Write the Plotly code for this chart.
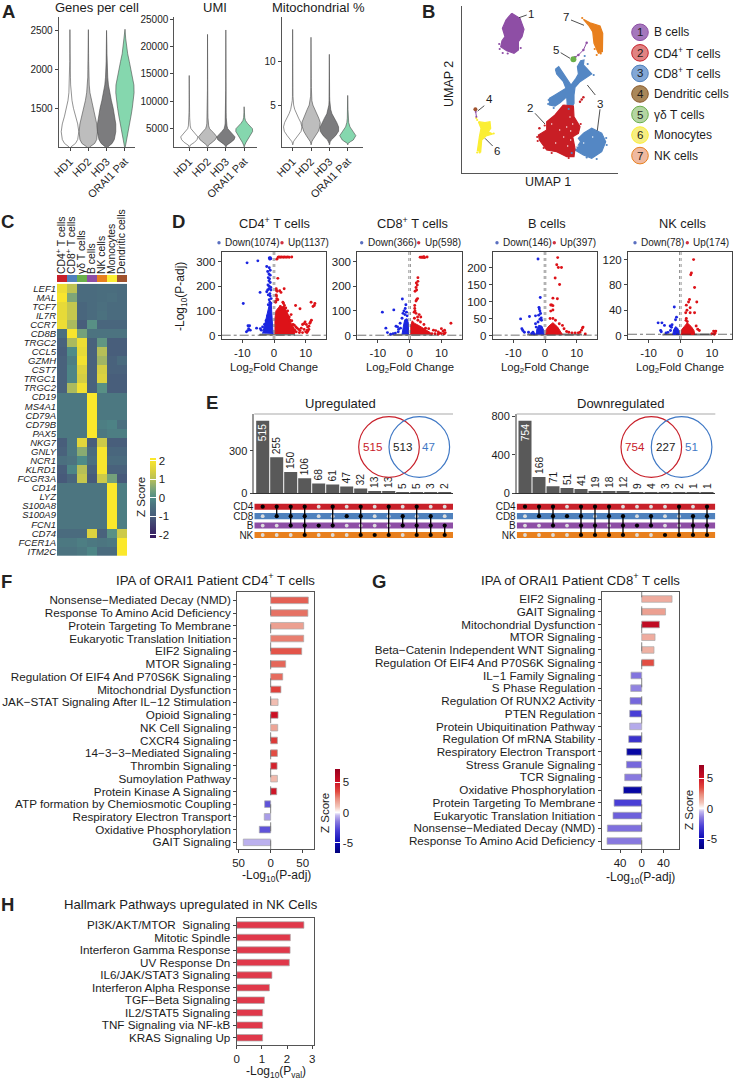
import plotly.graph_objects as go

W, H = 733, 1079
FONT = "Liberation Sans"
INK = "#1c1c1c"

# ---- A: quality-control violins ----
SAMPLES = ["HD1", "HD2", "HD3", "ORAI1 Pat"]
VIOLIN_FILLS = ["#FFFFFF", "#BDBDBD", "#7C7C7E", "#85D7AE"]

GENES_LEVELS = [1005, 1050, 1100, 1200, 1300, 1400, 1500, 1600, 1700, 1800, 1900, 2000, 2100, 2200, 2300, 2400]
GENES_TOPS = [2510, 2510, 2500, 2515]
GENES_WIDTHS = [
    [.05, .3, .42, .48, .42, .3, .19, .11, .06, .035, .025, .02, .015, .015, .01, .01],
    [.08, .35, .46, .5, .46, .36, .26, .16, .09, .05, .03, .025, .02, .015, .015, .01],
    [.07, .3, .42, .5, .5, .45, .36, .26, .17, .1, .06, .035, .025, .02, .015, .01],
    [.02, .06, .1, .18, .26, .33, .4, .46, .5, .49, .42, .33, .24, .15, .08, .04],
]
UMI_LEVELS = [1700, 2000, 2500, 3000, 3500, 4000, 4500, 5000, 5500, 6000, 6500, 7000, 8000, 9000, 10000, 12000, 14000, 16000, 18000, 20000]
UMI_TOPS = [14700, 22200, 23000, 9000]
UMI_WIDTHS = [
    [.02, .05, .28, .42, .47, .34, .2, .09, .05, .035, .025, .02, .015, .012, .01, .008, .006],
    [.02, .05, .25, .42, .5, .4, .25, .11, .06, .04, .03, .02, .015, .012, .01, .01, .008, .006, .006, .006],
    [.02, .05, .27, .45, .5, .38, .22, .1, .06, .04, .03, .02, .015, .012, .01, .01, .008, .006, .006, .006],
    [.015, .03, .1, .18, .26, .36, .46, .45, .3, .17, .07, .03, .012],
]
MITO_LEVELS = [.45, .6, .8, 1, 1.5, 2, 2.5, 3, 3.5, 4, 4.5, 5, 5.5, 6, 7, 8, 10, 12]
MITO_TOPS = [13.65, 12.75, 10.8, 6.1]
MITO_WIDTHS = [
    [.008, .012, .04, .1, .3, .46, .5, .44, .32, .2, .11, .05, .025, .015, .012, .01, .008, .006],
    [.008, .012, .04, .09, .26, .4, .48, .5, .42, .32, .21, .1, .045, .025, .015, .012, .008, .006],
    [.008, .012, .04, .1, .34, .5, .5, .4, .27, .14, .07, .03, .02, .012, .01, .008, .006],
    [.008, .015, .14, .3, .44, .28, .12, .05, .025, .015, .012, .008, .006, .006],
]

# ---- B: UMAP cluster outlines (x and y in UMAP units) ----
BCELL_U = [5.0, 5.83, 6.23, 6.03, 5.67, 5.67, 5.23, 4.5, 3.9, 4.03, 4.33, 4.07, 4.43]
BCELL_V = [15.97, 15.47, 14.37, 13.63, 13.13, 12.3, 11.97, 12.23, 12.63, 13.23, 13.63, 14.47, 15.3]
NK_U = [12.17, 12.83, 13.83, 14.1, 14.07, 13.67, 13.23, 13.1, 12.67]
NK_V = [15.37, 15.03, 14.7, 13.97, 12.13, 11.97, 12.97, 14.13, 14.8]
CD8_ARMS_U = [9.37, 9.7, 10.1, 10.57, 10.93, 11.43, 11.67, 11.57, 11.9, 12.23, 12.17, 12.5, 13.0, 12.5, 11.83, 11.33, 11.23, 11.23, 11.0, 10.57,
              10.5, 9.83, 9.33, 8.77, 8.77, 9.33, 10.43, 10.17, 9.77, 9.5]
CD8_ARMS_V = [10.37, 10.63, 10.03, 9.3, 8.8, 9.47, 9.9, 10.63, 11.23, 11.3, 10.8, 10.47, 9.9, 9.57, 9.13, 8.57, 7.8, 6.97, 6.57, 6.57,
              7.63, 7.03, 6.7, 6.8, 7.47, 7.8, 8.47, 9.13, 9.57, 9.9]
CD8_BLOB_U = [12.17, 13.0, 14.0, 14.4, 14.0, 13.0, 12.17, 11.33, 11.9, 11.67]
CD8_BLOB_V = [3.97, 4.47, 3.97, 3.13, 2.13, 1.47, 1.8, 2.3, 3.13, 3.47]
CD4_U = [10.17, 11.17, 11.23, 11.83, 11.67, 11.1, 11.33, 11.23, 10.5, 9.5, 8.5, 7.77, 7.67, 8.5, 8.5, 9.33]
CD4_V = [6.8, 6.7, 5.63, 4.63, 3.97, 3.63, 2.47, 1.63, 1.63, 2.13, 2.3, 3.3, 3.8, 4.3, 5.13, 5.8]
MONO_U = [1.67, 2.33, 2.83, 2.9, 2.67, 3.1, 2.43, 2.0, 1.9, 1.57, 1.77, 1.93]
MONO_V = [5.13, 5.03, 5.13, 4.47, 4.13, 3.9, 3.7, 3.3, 2.13, 2.23, 3.63, 4.47]
BSTREAK_U = [12.5, 12.17, 11.67, 11.33]
BSTREAK_V = [13.03, 12.3, 11.8, 11.57]
DCSTREAK_U = [1.4, 1.47]
DCSTREAK_V = [6.13, 5.63]
GD_U, GD_V = [11.17], [11.37]
DC_U, DC_V = [1.37], [6.37]
CD4_BITS_U = [7.77, 11.83, 12.0, 12.17]
CD4_BITS_V = [4.47, 7.13, 7.35, 7.57]
GAPS_U = [10.5, 10.83, 11.1, 9.0, 10.2, 9.8, 10.9, 11.5, 11.6, 11.45, 10.6, 9.4, 10.9, 12.2, 13.1]
GAPS_V = [4.6, 5.6, 4.9, 4.9, 3.6, 4.3, 3.3, 3.1, 2.7, 2.5, 2.7, 3.0, 4.2, 3.0, 3.6]

# Scattered cells lying just outside the cluster outlines
BCELL_FRINGE_U = [3.8, 4.1, 4.6, 3.75, 5.9]
BCELL_FRINGE_V = [12.4, 12.0, 11.95, 12.9, 12.5]
NK_FRINGE_U = [13.5, 13.9, 13.3, 12.05]
NK_FRINGE_V = [11.8, 11.95, 12.4, 15.5]
CD8_FRINGE_U = [12.3, 12.6, 13.2, 8.65, 8.7, 9.2, 10.7, 14.45, 14.5, 13.5, 12.5, 11.0]
CD8_FRINGE_V = [11.7, 10.9, 9.8, 6.9, 7.3, 6.5, 6.4, 3.5, 2.8, 1.4, 1.55, 2.0]
CD4_FRINGE_U = [7.55, 7.6, 8.2, 9.0, 10.7, 11.9, 8.3]
CD4_FRINGE_V = [3.6, 3.2, 2.5, 2.0, 1.5, 4.9, 4.75]
MONO_FRINGE_U = [1.55, 1.8, 3.2, 1.55, 1.45]
MONO_FRINGE_V = [2.05, 2.05, 3.95, 5.3, 5.5]

LEGEND_NAMES = ["B cells", "CD4<sup>+</sup> T cells", "CD8<sup>+</sup> T cells", "Dendritic cells", "γδ T cells", "Monocytes", "NK cells"]
LEGEND_FILLS = ["#A477BC", "#E08382", "#82A7D6", "#A98759", "#B4D5A2", "#F6EE82", "#EFB9A0"]
LEGEND_EDGES = ["#8E4EA5", "#C8202A", "#4F81BD", "#8B5A2B", "#6AAF4A", "#FBEE33", "#E8801E"]

# ---- C: marker-gene heatmap ----
GENES = ["LEF1", "MAL", "TCF7", "IL7R", "CCR7", "CD8B", "TRGC2", "CCL5", "GZMH", "CST7", "TRGC1", "TRGC2",
         "CD19", "MS4A1", "CD79A", "CD79B", "PAX5", "NKG7", "GNLY", "NCR1", "KLRD1", "FCGR3A",
         "CD14", "LYZ", "S100A8", "S100A9", "FCN1", "CD74", "FCER1A", "ITM2C"]
CELL_TYPES = ["CD4<sup>+</sup> T cells", "CD8<sup>+</sup> T cells", "γδ T cells", "B cells", "NK cells", "Monocytes", "Dendritic cells"]
CELL_COLORS = ["#C8202A", "#4F81BD", "#6AAF4A", "#8E4EA5", "#E8801E", "#FBEE33", "#A0522D"]
ZSCORES = [
    [1.8, 1.1, -.6, -.6, -.55, -.55, -.6],
    [2.0, .5, -.6, -.6, -.55, -.5, -.6],
    [1.7, 1.2, -.7, -.6, -.5, -.6, -.6],
    [1.7, 1.2, -.7, -.6, -.45, -.6, -.6],
    [1.8, .9, -.9, .1, -.7, -.7, -.7],
    [-.5, 2.0, .4, -.4, -.4, -.4, -.4],
    [-.8, .9, 1.8, -.8, .2, -.9, -.9],
    [-.9, 0, 1.7, -.8, 1.0, -.9, -.9],
    [-.8, -.2, 1.9, -.8, .8, -.8, -.6],
    [-.8, -.1, 1.5, -.8, 1.4, -.8, -.8],
    [-.8, -.1, 1.4, -.8, 1.5, -.9, -.9],
    [-.8, .9, 1.9, -.8, .1, -.9, -.9],
    [-.3, -.3, -.3, 2.1, -.3, -.3, -.3],
    [-.3, -.3, -.3, 2.1, -.3, -.3, -.3],
    [-.3, -.3, -.3, 2.1, -.3, -.3, -.3],
    [-.3, -.3, -.3, 2.1, -.2, -.15, -.5],
    [-.3, -.3, -.3, 2.1, -.3, -.2, -.2],
    [-.9, -.3, 1.6, -.9, 1.3, -.9, -.9],
    [-.8, -.3, .6, -.6, 2.0, -.7, -.7],
    [-.5, -.4, 0, -.5, 2.0, -.6, -.6],
    [-.9, -.1, 1.0, -.8, 2.0, -.8, -.8],
    [-1.0, -.7, 1.2, -1.0, 1.3, .4, -1.0],
    [-.35, -.35, -.35, -.35, -.35, 2.1, -.2],
    [-.35, -.35, -.35, -.35, -.35, 2.1, -.2],
    [-.35, -.35, -.35, -.35, -.35, 2.1, -.2],
    [-.35, -.35, -.35, -.35, -.35, 2.1, -.2],
    [-.35, -.35, -.35, -.35, -.35, 2.1, -.2],
    [-.6, -.6, -.6, 1.5, -.8, .1, 1.3],
    [-.3, -.3, -.2, -.3, -.35, -.3, 2.1],
    [-.4, -.4, -.3, -.1, -.6, -.6, 2.1],
]
HEAT_SCALE = [[0, "#35165F"], [.267, "#475A7A"], [.419, "#4C7580"], [.5, "#4E8B88"], [.616, "#7EA678"],
              [.733, "#B6BF58"], [.849, "#DCD23F"], [.965, "#F8E52D"], [1, "#FCE92A"]]

# ---- D: volcano plots (log2 fold change, -log10 adjusted p) ----
CD4_DOWN_CORE = [(-3.6, 8), (-3.2, 30), (-2.6, 55), (-2.3, 75), (-1.9, 100), (-1.4, 130), (-.9, 135), (-.7, 100), (-.5, 60), (-.3, 30), (-.3, 6)]
CD4_UP_CORE = [(.3, 6), (.3, 70), (.6, 100), (1.5, 115), (3.2, 118), (4.5, 85), (5.4, 50), (6.5, 25), (6.5, 6)]
CD4_DOWN = [(-1.5, 315), (-1.2, 316), (-1.3, 310), (-1.0, 312), (-8.5, 295), (-5.1, 303), (-2.3, 280), (-1.5, 275), (-1.2, 265), (-2.0, 260),
            (-1.6, 250), (-1.2, 245), (-1.8, 235), (-1.4, 230), (-1.6, 222), (-1.2, 215), (-1.9, 205), (-1.5, 200), (-1, 195), (-4.4, 175),
            (-2.3, 178), (-2.0, 185), (-1.6, 190), (-1, 185), (-1.3, 170), (-1.8, 165), (-1.2, 160), (-.9, 150), (-9.7, 130), (-1.5, 145),
            (-1.3, 135), (-1.8, 125), (-1, 130), (-8.2, 40), (-7.7, 40), (-8, 28), (-8.3, 20), (-8.7, 15), (-7.5, 22), (-5.5, 30), (-4.3, 28),
            (-4, 22), (-3.6, 35), (-3.0, 45), (-2.5, 60), (-2, 80), (-2.8, 15)]
CD4_UP = [(1.3, 318), (1.6, 319), (2, 318), (2.4, 319), (2.9, 318), (3.3, 319), (3.8, 318), (4.3, 319), (4.8, 318), (5.6, 319), (.9, 310),
          (1.2, 232), (.7, 190), (.8, 183), (1, 180), (3.2, 190), (1.8, 182), (2.2, 175), (.7, 165), (.8, 160), (.9, 150), (1.2, 145), (.6, 140),
          (.5, 135), (3, 130), (2.8, 135), (6.8, 122), (8.2, 109), (11.7, 135), (12.9, 130), (12.7, 122), (12.3, 118), (2, 118), (3.3, 122),
          (3.7, 112), (4.3, 100), (5.4, 85), (4.8, 75), (5, 62), (5.6, 60), (6, 45), (6.4, 42), (6.9, 35), (7.3, 30), (7.8, 25), (8.2, 20), (8.6, 30),
          (9, 45), (9.4, 48), (9.8, 55), (10.2, 45), (10.6, 35), (11, 38), (11.5, 55), (11.8, 62), (11.3, 50), (10.5, 22), (10, 15), (10.4, 12),
          (9.5, 25), (9, 12), (8, 12), (7, 15), (6.5, 22), (11, 25), (10.7, 18), (5.8, 30)]
CD8_DOWN_CORE = [(-2.4, 5), (-2.2, 25), (-1.8, 50), (-1.5, 65), (-.8, 68), (-.4, 50), (-.35, 5)]
CD8_UP_CORE = [(.35, 5), (.35, 40), (.8, 60), (1.5, 50), (3, 40), (5, 25), (6.5, 12), (7, 5)]
CD8_DOWN = [(-8.6, 95), (-5, 104), (-2.3, 148), (-1.2, 125), (-1.4, 110), (-1.8, 100), (-2.1, 90), (-1.5, 85), (-1, 95), (-.8, 80), (-2.4, 70),
            (-3, 50), (-3.8, 35), (-4.3, 38), (-2.9, 30), (-7.5, 30), (-7, 12), (-6, 5), (-5.2, 8), (-4.5, 10), (-3.5, 25), (-3.6, 15)]
CD8_UP = [(3.3, 318), (3.7, 318), (4, 318), (4.3, 318), (4.7, 316), (5.5, 319), (4.5, 320), (2.6, 235), (2.6, 220), (2.1, 213), (2.4, 205),
          (2, 195), (2.2, 185), (1.7, 180), (2.5, 150), (2.2, 145), (2.0, 140), (1.6, 122), (1.6, 110), (1.7, 100), (1.4, 95), (2, 90), (3, 85),
          (3.5, 75), (2.5, 75), (1.5, 70), (2.6, 62), (3.4, 55), (4.5, 45), (5, 30), (6, 28), (7.5, 22), (8.2, 20), (9, 15), (9.5, 10), (10.5, 18),
          (11, 22), (11.2, 12), (10.8, 7), (13, 50), (10, 28), (7, 8), (8, 7), (9, 5), (10, 8), (11, 8)]
B_DOWN_CORE = [(-2.7, 3), (-2.6, 18), (-2, 30), (-1, 28), (-.4, 15), (-.35, 3)]
B_UP_CORE = [(.3, 3), (.4, 18), (1.2, 28), (2.5, 38), (4, 25), (5, 12), (5.5, 3)]
B_DOWN = [(-2.2, 225), (-1.5, 112), (-1.9, 83), (-1.8, 78), (-1.6, 72), (-1.4, 65), (-2, 60), (-1.2, 52), (-1.6, 48), (-1.1, 45), (-2.2, 40),
          (-3, 58), (-4.9, 56), (-7.7, 49), (-7.3, 20), (-7, 15), (-6.5, 10), (-5.2, 10), (-4.2, 6), (-3.8, 10), (-3.4, 5), (-3, 35), (-2.8, 25)]
B_UP = [(4, 229), (3.7, 208), (4.2, 200), (5.2, 200), (3.2, 169), (4.6, 150), (2.5, 110), (3.9, 108), (2.1, 90), (1.8, 90), (2.5, 88), (1.8, 72),
        (2.5, 75), (1.6, 50), (2.5, 50), (3.3, 45), (4.5, 35), (5.5, 30), (6, 20), (6.8, 12), (7.5, 10), (8.5, 8), (9.5, 8), (10.5, 8), (11.5, 16),
        (12, 25), (11.8, 22), (12.7, 5), (11, 10)]
NK_DOWN_CORE = [(-2.4, 1), (-2.1, 9), (-1.5, 14), (-.9, 12), (-.4, 7), (-.35, 1)]
NK_UP_CORE = [(.35, 1), (.4, 9), (1.2, 14), (2.2, 20), (3.5, 14), (4.3, 8), (4.6, 1)]
NK_DOWN = [(-1.9, 45), (-1.2, 29), (-1.5, 25), (-7, 20), (-5.8, 20), (-5, 16), (-3.2, 15), (-2.6, 17), (-2.8, 13), (-6.2, 8), (-6, 6), (-3.9, 5), (-3.1, 8), (-4.5, 4)]
NK_UP = [(4.2, 120), (3.5, 99), (3.3, 96), (4.5, 76), (2.9, 57), (2.6, 53), (5.2, 53), (1.9, 48), (3.1, 44), (2.1, 40), (4.5, 36), (3.1, 36), (1.7, 36),
         (1.9, 27), (1.8, 24), (2.2, 22), (5, 15), (5.5, 10), (6, 8), (10.5, 7), (10.8, 6), (11.2, 7), (10, 3), (11, 4), (10.7, 2)]
NOT_SIGNIFICANT_SPAN = {"CD4": (-4.5, 6.5, 6), "CD8": (-6, 7, 5), "B": (-5.5, 11.5, 5), "NK": (-5.5, 10, 2.5)}
P_CUTOFF = {"CD4": 1.3, "CD8": 1.3, "B": 1.3, "NK": 2}

# ---- E: UpSet intersections ----
SETS = ["CD4", "CD8", "B", "NK"]
SET_COLORS = ["#C8202A", "#4F81BD", "#8E4EA5", "#E8801E"]
UP_COUNTS = [515, 255, 150, 106, 68, 61, 47, 32, 13, 13, 5, 5, 3, 2]
UP_MEMBERS = [[0], [0, 1], [0, 1, 2], [0, 1, 2, 3], [2], [0, 2], [1], [0, 1, 3], [3], [0, 3], [1, 2], [0, 2, 3], [1, 2, 3], [2, 3]]
DOWN_COUNTS = [754, 168, 71, 51, 41, 19, 18, 12, 9, 4, 3, 2, 1, 1]
DOWN_MEMBERS = [[0], [0, 1], [0, 1, 2], [1], [0, 1, 2, 3], [0, 2, 3], [0, 1, 3], [1, 2, 3], [2], [1, 2], [3], [0, 3], [1, 2, 3], [0, 1, 2, 3]]
UP_VENN = [515, 513, 47]
DOWN_VENN = [754, 227, 51]

# ---- F, G, H: pathway bars ----
IPA_CD4_TERMS = ["Nonsense−Mediated Decay (NMD)", "Response To Amino Acid Deficiency", "Protein Targeting To Membrane",
                 "Eukaryotic Translation Initiation", "EIF2 Signaling", "MTOR Signaling", "Regulation Of EIF4 And P70S6K Signaling",
                 "Mitochondrial Dysfunction", "JAK−STAT Signaling After IL−12 Stimulation", "Opioid Signaling", "NK Cell Signaling",
                 "CXCR4 Signaling", "14−3−3−Mediated Signaling", "Thrombin Signaling", "Sumoylation Pathway", "Protein Kinase A Signaling",
                 "ATP formation by Chemiosmotic Coupling", "Respiratory Electron Transport", "Oxidative Phosphorylation", "GAIT Signaling"]
IPA_CD4_LOGP = [58.7, 58, 51.5, 51.5, 48.4, 23.4, 18.8, 16, 11.5, 11.5, 11, 10.5, 10.5, 10, 10.5, 9.4, -9.4, -10, -17.7, -42.7]
IPA_CD4_Z = [3, 2.7, 1.8, 2.5, 3.2, 2.9, 2.8, 3.6, 1.1, 5, 1.7, 3.8, 3.3, 4.5, 1.2, 4.8, -2.5, -1, -2.5, -.7]
IPA_CD8_TERMS = ["EIF2 Signaling", "GAIT Signaling", "Mitochondrial Dysfunction", "MTOR Signaling", "Beta−Catenin Independent WNT Signaling",
                 "Regulation Of EIF4 And P70S6K Signaling", "IL−1 Family Signaling", "S Phase Regulation", "Regulation Of RUNX2 Activity",
                 "PTEN Regulation", "Protein Ubiquitination Pathway", "Regulation Of mRNA Stability", "Respiratory Electron Transport",
                 "Stress Granule Signaling", "TCR Signaling", "Oxidative Phosphorylation", "Protein Targeting To Membrane",
                 "Eukaryotic Translation Initiation", "Nonsense−Mediated Decay (NMD)", "Response To Amino Acid Deficiency"]
IPA_CD8_LOGP = [56, 44, 32.7, 24.6, 22.7, 22.7, -19.8, -20.3, -21.6, -22.2, -22.2, -24, -27.7, -28.2, -31.4, -33.8, -51, -53, -63.4, -64]
IPA_CD8_Z = [1.5, 1.8, 5.5, 1.5, 1.4, 3.3, -1.7, -1.4, -2, -3, -.8, -3.5, -5.5, -2, -1.6, -5.5, -3, -2.2, -1.8, -1.6]
HALLMARK_TERMS = ["PI3K/AKT/MTOR  Signaling", "Mitotic Spindle", "Interferon Gamma Response", "UV Response Dn", "IL6/JAK/STAT3 Signaling",
                  "Interferon Alpha Response", "TGF−Beta Signaling", "IL2/STAT5 Signaling", "TNF Signaling via NF-kB", "KRAS Signaling Up"]
HALLMARK_LOGP = [2.67, 2.13, 2.12, 2.09, 1.40, 1.30, 1.10, 1.03, 1.03, 1.03]
Z_SCALE = [[0, "#00007A"], [.12, "#0A0AB4"], [.27, "#4A3FD6"], [.38, "#8E7FE0"], [.45, "#C8BEF0"], [.485, "#FFFFFF"],
           [.55, "#F3C6BA"], [.65, "#E98C7C"], [.73, "#E2493F"], [.85, "#CC0F24"], [1, "#99001F"]]
Z_MIN, Z_MAX = -6.7, 7.1


fig = go.Figure()
layout_axes, notes, shapes = {}, [], []
axis_count = 0


def panel(l, r, t, b, xopts=None, yopts=None):
    """Register an x/y axis pair occupying the given page rectangle."""
    global axis_count
    axis_count += 1
    n = axis_count
    base = dict(showgrid=False, zeroline=False, showline=True, linecolor="#555", linewidth=1, ticks="outside", ticklen=3,
                tickwidth=.8, tickcolor="#444", tickfont=dict(size=10, color=INK), fixedrange=True)
    layout_axes[f"xaxis{n}"] = {**base, "domain": [l / W, r / W], "anchor": f"y{n}", **(xopts or {})}
    layout_axes[f"yaxis{n}"] = {**base, "domain": [1 - b / H, 1 - t / H], "anchor": f"x{n}", **(yopts or {})}
    return f"x{n}", f"y{n}"


def label(px, py, text, size=10, color=INK, xanchor="center", angle=0, bold=False):
    notes.append(dict(x=px / W, y=1 - py / H, xref="paper", yref="paper", text=f"<b>{text}</b>" if bold else text, showarrow=False,
                      xanchor=xanchor, yanchor="middle", textangle=angle, borderpad=0, font=dict(size=size, color=color, family=FONT)))


def page_line(x0, y0, x1, y1, color="#222", width=.8, dash=None):
    shapes.append(dict(type="line", xref="paper", yref="paper", x0=x0 / W, x1=x1 / W, y0=1 - y0 / H, y1=1 - y1 / H,
                       line=dict(color=color, width=width, dash=dash)))


def page_circle(cx, cy, r, fill="rgba(0,0,0,0)", edge="#000", width=1):
    shapes.append(dict(type="circle", xref="paper", yref="paper", x0=(cx - r) / W, x1=(cx + r) / W, y0=1 - (cy + r) / H, y1=1 - (cy - r) / H,
                       fillcolor=fill, line=dict(color=edge, width=width)))


for letter, lx, ly in [("A", 8, 11), ("B", 428, 11), ("C", 7, 221), ("D", 178, 221), ("E", 212, 402), ("F", 6, 581), ("G", 379, 581), ("H", 7, 904)]:
    label(lx, ly, letter, size=18.5, color="#222", bold=True)


# ---- A ----
def violin_panel(l, r, levels, tops, widths, xrange_, yrange, ticks, title, title_x):
    xa, ya = panel(l, r, 17, 147,
                   dict(range=xrange_, tickvals=[0, 1, 2, 3], ticktext=SAMPLES, tickangle=-45, tickfont=dict(size=10.8, color=INK)),
                   dict(range=yrange, tickvals=ticks, tickformat="d", tickfont=dict(size=10, color=INK)))
    for i, (top, width) in enumerate(zip(tops, widths)):
        ys = list(levels[:len(width)]) + [top]
        ws = list(width) + [.004]
        fig.add_trace(go.Scatter(x=[i + w for w in ws] + [i - w for w in reversed(ws)], y=ys + ys[::-1], fill="toself", mode="lines",
                                 fillcolor=VIOLIN_FILLS[i], line=dict(color="#4a4a4a", width=.6), xaxis=xa, yaxis=ya, showlegend=False))
    label(title_x, 8, title, size=13)


violin_panel(58.7, 135, GENES_LEVELS, GENES_TOPS, GENES_WIDTHS, [-.617, 3.55], [1004, 2672], [1500, 2000, 2500], "Genes per cell", 97)
violin_panel(174.3, 257, UMI_LEVELS, UMI_TOPS, UMI_WIDTHS, [-.82, 3.7], [1660, 25365], [5000, 10000, 15000, 20000, 25000], "UMI", 215)
violin_panel(281.7, 363, MITO_LEVELS, MITO_TOPS, MITO_WIDTHS, [-.6, 3.83], [.2, 15.07], [5, 10], "Mitochondrial %", 318.8)

# ---- B ----
xa, ya = panel(461.7, 618.3, 6, 173, dict(range=[0, 15.66], ticks="", showticklabels=False), dict(range=[0, 16.7], ticks="", showticklabels=False))


def blob(us, vs, color):
    fig.add_trace(go.Scatter(x=us + us[:1], y=vs + vs[:1], fill="toself", mode="lines", fillcolor=color, line=dict(color=color, width=1.2),
                             xaxis=xa, yaxis=ya, showlegend=False))


def dots(us, vs, color, size, mode="markers"):
    fig.add_trace(go.Scatter(x=us, y=vs, mode=mode, marker=dict(color=color, size=size), line=dict(color=color, width=1),
                             xaxis=xa, yaxis=ya, showlegend=False))


blob(BCELL_U, BCELL_V, "#8E4EA5")
blob(NK_U, NK_V, "#E8801E")
blob(CD8_ARMS_U, CD8_ARMS_V, "#5487C4")
blob(CD8_BLOB_U, CD8_BLOB_V, "#5487C4")
blob(CD4_U, CD4_V, "#C81E25")
blob(MONO_U, MONO_V, "#FBEE33")
dots(BCELL_FRINGE_U, BCELL_FRINGE_V, "#8E4EA5", 2.2)
dots(NK_FRINGE_U, NK_FRINGE_V, "#E8801E", 2.2)
dots(CD8_FRINGE_U, CD8_FRINGE_V, "#5487C4", 2.2)
dots(CD4_FRINGE_U, CD4_FRINGE_V, "#C81E25", 2.2)
dots(MONO_FRINGE_U, MONO_FRINGE_V, "#FBEE33", 2.2)
dots(BSTREAK_U, BSTREAK_V, "#8E4EA5", 2.5, "lines+markers")
dots(DCSTREAK_U, DCSTREAK_V, "#8E4EA5", 2, "lines+markers")
dots(CD4_BITS_U, CD4_BITS_V, "#C81E25", 2.5)
dots(GD_U, GD_V, "#6AAF4A", 6)
dots(DC_U, DC_V, "#A0522D", 4)
dots(GAPS_U, GAPS_V, "#FFFFFF", 1.4)

for number, nx, ny, x0, y0, x1, y1 in [("1", 531.3, 13.7, 519, 17.7, 526.7, 15), ("7", 565.7, 17.3, 571, 20, 584, 25.3), ("5", 555.7, 50, 560.7, 52.7, 570, 58.3),
                                       ("2", 530.3, 108, 535, 113.3, 545, 124), ("4", 489, 98.7, 484.3, 105.7, 477.7, 111), ("6", 497, 150.7, 485, 138.3, 492.7, 146)]:
    label(nx, ny, number, size=11.5)
    page_line(x0, y0, x1, y1)
label(600, 104, "3", size=11.5)
page_line(587.3, 85, 595.3, 95)
page_line(600, 109.3, 597.3, 130.7)

label(548, 182, "UMAP 1", size=12.5)
label(449, 84, "UMAP 2", size=12.5, angle=-90)
for i, name in enumerate(LEGEND_NAMES):
    cy = 32.3 + i * 20.55
    page_circle(640, cy, 8.3, LEGEND_FILLS[i], LEGEND_EDGES[i], 1)
    label(640, cy, str(i + 1), size=11.5)
    label(653, cy, name, size=12, xanchor="left")

# ---- C ----
xa, ya = panel(57, 127, 283.7, 556,
               dict(range=[-.5, 6.5], showline=False, ticks="", showticklabels=False),
               dict(range=[29.5, -.5], showline=False, ticks="", tickvals=list(range(30)), ticktext=[f"<i>{g}</i>" for g in GENES], tickfont=dict(size=9.5, color=INK)))
fig.add_trace(go.Heatmap(z=ZSCORES, x=list(range(7)), y=list(range(30)), colorscale=HEAT_SCALE, zmin=-2.15, zmax=2.15, xaxis=xa, yaxis=ya, xgap=0, ygap=0,
                         colorbar=dict(x=150 / W, xanchor="left", xpad=0, y=1 - 537.7 / H, yanchor="bottom", ypad=0, lenmode="pixels", len=80,
                                       thicknessmode="pixels", thickness=5.7, outlinewidth=0, tickvals=[-2, -1, 0, 1, 2], ticktext=["-2", "-1", "0", "1", "2"], ticks="inside", ticklen=5.7,
                                       tickcolor="#FFFFFF", tickwidth=.8, tickfont=dict(size=11.5, color=INK), ticklabelposition="outside")))
xa, ya = panel(57, 127, 275, 282,
               dict(range=[-.5, 6.5], side="top", showline=False, ticks="", tickvals=list(range(7)), ticktext=CELL_TYPES, tickangle=-90, tickfont=dict(size=10.4, color=INK)),
               dict(range=[-.5, .5], showline=False, ticks="", showticklabels=False))
strip_scale = []
for i, c in enumerate(CELL_COLORS):
    strip_scale += [[i / 7, c], [(i + 1) / 7, c]]
fig.add_trace(go.Heatmap(z=[list(range(7))], x=list(range(7)), y=[0], colorscale=strip_scale, zmin=-.5, zmax=6.5, showscale=False, xaxis=xa, yaxis=ya))
label(141, 497, "Z Score", size=11.5, angle=-90)


# ---- D ----
def volcano(l, r, name, title, title_x, core_down, core_up, down, up, counts, legend_x, yrange, yticks):
    xa, ya = panel(l, r, 252, 339,
                   dict(range=[-16.5, 16.4], tickvals=[-10, 0, 10], ticktext=["-10", "0", "10"], mirror=True, linecolor="#444", tickfont=dict(size=11.5, color=INK)),
                   dict(range=yrange, tickvals=yticks, mirror=True, linecolor="#444", tickfont=dict(size=11.5, color=INK)))
    x0, x1, h = NOT_SIGNIFICANT_SPAN[name]
    fig.add_trace(go.Scatter(x=[x0, x0, x1, x1], y=[0, h, h, 0], fill="toself", mode="lines", fillcolor="#777", line=dict(color="#777", width=.8), xaxis=xa, yaxis=ya, showlegend=False))
    for core, pts, color in [(core_down, down, "#1B25E0"), (core_up, up, "#DD1218")]:
        fig.add_trace(go.Scatter(x=[p[0] for p in core], y=[p[1] for p in core], fill="toself", mode="lines", fillcolor=color, line=dict(color=color, width=1), xaxis=xa, yaxis=ya, showlegend=False))
        fig.add_trace(go.Scatter(x=[p[0] for p in pts], y=[p[1] for p in pts], mode="markers", marker=dict(color=color, size=2.9), xaxis=xa, yaxis=ya, showlegend=False))
    for xv in (-.25, .25):
        shapes.append(dict(type="line", xref=xa, yref=f"{ya} domain", x0=xv, x1=xv, y0=0, y1=1, line=dict(color="#666", width=.7, dash="dot")))
    shapes.append(dict(type="line", xref=f"{xa} domain", yref=ya, x0=0, x1=1, y0=P_CUTOFF[name], y1=P_CUTOFF[name], line=dict(color="#333", width=.7, dash="dashdot")))
    label(title_x, 223.3, title, size=12.8)
    dot_down, text_down, dot_up, text_up = legend_x
    page_circle(dot_down, 242.7, 1.7, "#5A6FC0", "#5A6FC0", 0)
    label(text_down, 242.7, f"Down({counts[0]})", size=10, xanchor="left")
    page_circle(dot_up, 242.7, 1.7, "#D03040", "#D03040", 0)
    label(text_up, 242.7, f"Up({counts[1]})", size=10, xanchor="left")
    label((l + r) / 2 + .2, 367.7, "Log<sub>2</sub>Fold Change", size=11.3)


volcano(221.7, 326, "CD4", "CD4<sup>+</sup> T cells", 274.3, CD4_DOWN_CORE, CD4_UP_CORE, CD4_DOWN, CD4_UP, (1074, 1137), (219, 224.3, 282, 286.7), [-14, 339], [0, 100, 200, 300])
volcano(357.3, 461.7, "CD8", "CD8<sup>+</sup> T cells", 412.7, CD8_DOWN_CORE, CD8_UP_CORE, CD8_DOWN, CD8_UP, (366, 598), (361.7, 366.7, 418.7, 423.7), [-14, 339], [0, 100, 200, 300])
volcano(492.7, 597, "B", "B cells", 546.7, B_DOWN_CORE, B_UP_CORE, B_DOWN, B_UP, (146, 397), (497, 501.7, 554.3, 559), [-10, 245.5], [0, 50, 100, 150, 200])
volcano(628, 732.3, "NK", "NK cells", 682, NK_DOWN_CORE, NK_UP_CORE, NK_DOWN, NK_UP, (78, 174), (635, 640, 687.3, 692), [-5.5, 132], [0, 40, 80, 120])
label(181, 297, "-Log<sub>10</sub>(P-adj)", size=12, angle=-90)


# ---- E ----
def upset(l, r, first_x, counts, members, ytop, yticks, title, title_x, venn, red_x):
    xrange_ = [(l - first_x) / 14, (r - first_x) / 14]
    xa, ya = panel(l, r, 414, 493,
                   dict(range=xrange_, ticks="", showticklabels=False, linecolor="#333"),
                   dict(range=[0, ytop], tickvals=yticks, linecolor="#999", linewidth=1.5, tickfont=dict(size=11, color=INK)))
    idx = list(range(14))
    fig.add_trace(go.Bar(x=idx, y=counts, width=.93, text=[str(c) for c in counts], textangle=-90, cliponaxis=False, constraintext="none",
                         textposition=["inside"] + ["outside"] * 13, insidetextanchor="end",
                         textfont=dict(size=10.3, color=["#FFFFFF"] + [INK] * 13), marker=dict(color="#595959", line=dict(width=0)),
                         xaxis=xa, yaxis=ya, showlegend=False))
    page_line(l, 414, r, 414, "#AAAAAA", 1.2)
    label(title_x, 403, title, size=13)
    page_circle(red_x, 447, 30.3, edge="#C8202A", width=1.2)
    page_circle(red_x + 30.3, 447, 30.3, edge="#3F78C5", width=1.2)
    label(red_x - 16.6, 446.3, str(venn[0]), size=11.6, color="#C8202A")
    label(red_x + 13.7, 446.3, str(venn[1]), size=11.6)
    label(red_x + 40, 446.3, str(venn[2]), size=11.6, color="#3F78C5")

    xa, ya = panel(l, r, 500, 542,
                   dict(range=xrange_, showline=False, ticks="", showticklabels=False),
                   dict(range=[3.74, -.71], showline=False, ticks="", tickvals=[0, 1, 2, 3], ticktext=SETS, tickfont=dict(size=10, color=INK)))
    for row, color in enumerate(SET_COLORS):
        fig.add_trace(go.Bar(y=[row], x=[xrange_[1] - xrange_[0]], base=[xrange_[0]], orientation="h", width=.64, marker=dict(color=color, line=dict(width=0)),
                             xaxis=xa, yaxis=ya, showlegend=False))
    off_x = [i for i in idx for row in range(4) if row not in members[i]]
    off_y = [row for i in idx for row in range(4) if row not in members[i]]
    fig.add_trace(go.Scatter(x=off_x, y=off_y, mode="markers", marker=dict(color="#DCDCDC", size=3.8), xaxis=xa, yaxis=ya, showlegend=False))
    link_x, link_y = [], []
    for i in idx:
        link_x += [i, i, None]
        link_y += [min(members[i]), max(members[i]), None]
    fig.add_trace(go.Scatter(x=link_x, y=link_y, mode="lines", line=dict(color="#000", width=1.3), xaxis=xa, yaxis=ya, showlegend=False))
    on_x = [i for i in idx for row in members[i]]
    on_y = [row for i in idx for row in members[i]]
    fig.add_trace(go.Scatter(x=on_x, y=on_y, mode="markers", marker=dict(color="#000", size=4.2), xaxis=xa, yaxis=ya, showlegend=False))


upset(254.3, 453, 262.7, UP_COUNTS, UP_MEMBERS, 564, [0, 300], "Upregulated", 340.7, UP_VENN, 389)
upset(516.7, 715.3, 525, DOWN_COUNTS, DOWN_MEMBERS, 825, [0, 400, 800], "Downregulated", 620, DOWN_VENN, 651.3)


# ---- F, G ----
def ipa(l, r, terms, values, zs, xrange_, xticks, xtext, top_row, title, title_x, cbar_left, cbar_top, cbar_bottom, ztitle_x, ztitle_y, axis_title_x, axis_title_y):
    row = 12.74
    ymin = (591.7 - top_row) / row
    ymax = (849.3 - top_row) / row
    xa, ya = panel(l, r, 591.7, 849.3,
                   dict(range=xrange_, tickvals=xticks, ticktext=xtext, mirror=True, tickfont=dict(size=11.5, color=INK)),
                   dict(type="category", categoryorder="array", categoryarray=terms, tickmode="array", tickvals=terms, ticktext=terms,
                        range=[ymax, ymin], mirror=True, tickfont=dict(size=11.7, color=INK)))
    fig.add_trace(go.Bar(y=terms, x=values, orientation="h", width=.52, xaxis=xa, yaxis=ya, showlegend=False,
                         marker=dict(color=zs, cmin=Z_MIN, cmax=Z_MAX, colorscale=Z_SCALE, showscale=True, line=dict(color="#AAAAAA", width=.7),
                                     colorbar=dict(x=cbar_left / W, xanchor="left", xpad=0, y=1 - cbar_bottom / H, yanchor="bottom", ypad=0, lenmode="pixels", len=cbar_bottom - cbar_top,
                                                   thicknessmode="pixels", thickness=5.2, outlinewidth=0, tickvals=[-5, 0, 5], ticktext=["-5", "0", "5"], ticks="inside", ticklen=5.2,
                                                   tickcolor="#FFFFFF", tickwidth=.8, tickfont=dict(size=11.5, color=INK)))))
    shapes.append(dict(type="line", xref=xa, yref=f"{ya} domain", x0=0, x1=0, y0=0, y1=1, line=dict(color="#666", width=.8, dash="dash")))
    label(title_x, 579, title, size=13.2)
    label(ztitle_x, ztitle_y, "Z Score", size=11.5, angle=-90)
    label(axis_title_x, axis_title_y, "-Log<sub>10</sub>(P-adj)", size=12)


ipa(237.3, 314.3, IPA_CD4_TERMS, IPA_CD4_LOGP, IPA_CD4_Z, [-52, 68], [-50, 0, 50], ["50", "0", "50"], 600.3,
    "IPA of ORAI1 Patient CD4<sup>+</sup> T cells", 216, 335, 769, 853.3, 325, 813, 276, 875.7)
ipa(601.5, 678.5, IPA_CD8_TERMS, IPA_CD8_LOGP, IPA_CD8_Z, [-74.2, 67.9], [-40, 0, 40], ["40", "0", "40"], 599,
    "IPA of ORAI1 Patient CD8<sup>+</sup> T cells", 580, 699, 765, 849.3, 689, 810, 640, 878)

# ---- H ----
row = 12.53
xa, ya = panel(236.7, 314, 917.7, 1045,
               dict(range=[0, 3.07], tickvals=[0, 1, 2, 3], mirror=True, tickfont=dict(size=11.5, color=INK)),
               dict(type="category", categoryorder="array", categoryarray=HALLMARK_TERMS, tickmode="array", tickvals=HALLMARK_TERMS, ticktext=HALLMARK_TERMS,
                    range=[(1045 - 925) / row, (917.7 - 925) / row], mirror=True, tickfont=dict(size=11.7, color=INK)))
fig.add_trace(go.Bar(y=HALLMARK_TERMS, x=HALLMARK_LOGP, orientation="h", width=.52, marker=dict(color="#E0384A", line=dict(color="#AAAAAA", width=.7)), xaxis=xa, yaxis=ya, showlegend=False))
label(191.3, 904, "Hallmark Pathways upregulated in NK Cells", size=13.1)
label(276, 1071.7, "-Log<sub>10</sub>(P<sub>val</sub>)", size=12)

fig.update_layout(width=W, height=H, autosize=False, margin=dict(l=0, r=0, t=0, b=0, autoexpand=False), paper_bgcolor="#FFFFFF", plot_bgcolor="#FFFFFF",
                  font=dict(family=FONT, color=INK), annotations=notes, shapes=shapes, showlegend=False, barmode="overlay", **layout_axes)
fig.write_html("out.html")
